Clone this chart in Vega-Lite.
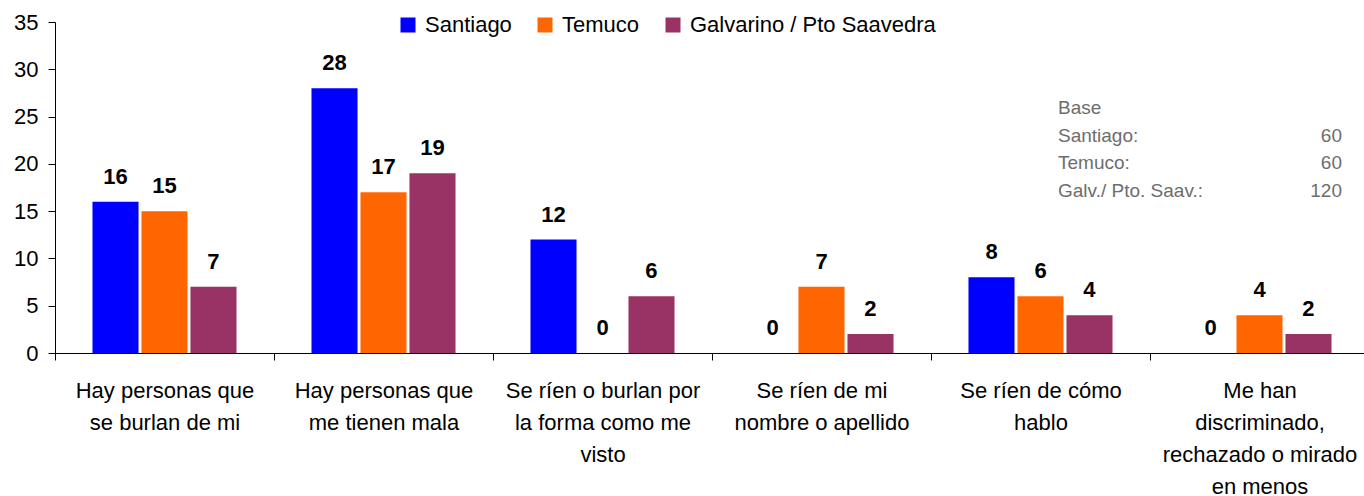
{
  "$schema": "https://vega.github.io/schema/vega-lite/v6.json",
  "width": 1314,
  "height": 331,
  "autosize": {"type": "none"},
  "padding": {"left": 55, "top": 22, "right": 0, "bottom": 143},
  "background": "white",
  "config": {
    "view": {"stroke": null},
    "font": "Liberation Sans",
    "axis": {"grid": false}
  },
  "datasets": {
    "bars": [
      {"cat": "Hay personas que|se burlan de mi", "city": "Santiago", "v": 16},
      {"cat": "Hay personas que|se burlan de mi", "city": "Temuco", "v": 15},
      {"cat": "Hay personas que|se burlan de mi", "city": "Galvarino / Pto Saavedra", "v": 7},
      {"cat": "Hay personas que|me tienen mala", "city": "Santiago", "v": 28},
      {"cat": "Hay personas que|me tienen mala", "city": "Temuco", "v": 17},
      {"cat": "Hay personas que|me tienen mala", "city": "Galvarino / Pto Saavedra", "v": 19},
      {"cat": "Se ríen o burlan por|la forma como me|visto", "city": "Santiago", "v": 12},
      {"cat": "Se ríen o burlan por|la forma como me|visto", "city": "Temuco", "v": 0},
      {"cat": "Se ríen o burlan por|la forma como me|visto", "city": "Galvarino / Pto Saavedra", "v": 6},
      {"cat": "Se ríen de mi|nombre o apellido", "city": "Santiago", "v": 0},
      {"cat": "Se ríen de mi|nombre o apellido", "city": "Temuco", "v": 7},
      {"cat": "Se ríen de mi|nombre o apellido", "city": "Galvarino / Pto Saavedra", "v": 2},
      {"cat": "Se ríen de cómo|hablo", "city": "Santiago", "v": 8},
      {"cat": "Se ríen de cómo|hablo", "city": "Temuco", "v": 6},
      {"cat": "Se ríen de cómo|hablo", "city": "Galvarino / Pto Saavedra", "v": 4},
      {"cat": "Me han|discriminado,|rechazado o mirado|en menos", "city": "Santiago", "v": 0},
      {"cat": "Me han|discriminado,|rechazado o mirado|en menos", "city": "Temuco", "v": 4},
      {"cat": "Me han|discriminado,|rechazado o mirado|en menos", "city": "Galvarino / Pto Saavedra", "v": 2}
    ],
    "base": [
      {"label": "Base\nSantiago:\nTemuco:\nGalv./ Pto. Saav.:", "n": " \n60\n60\n120"}
    ]
  },
  "layer": [
    {
      "data": {"name": "bars"},
      "mark": {"type": "bar"},
      "encoding": {
        "x": {
          "field": "cat", "type": "nominal",
          "scale": {
            "domain": ["Hay personas que|se burlan de mi", "Hay personas que|me tienen mala", "Se ríen o burlan por|la forma como me|visto", "Se ríen de mi|nombre o apellido", "Se ríen de cómo|hablo", "Me han|discriminado,|rechazado o mirado|en menos"],
            "paddingInner": 0, "paddingOuter": 0
          },
          "axis": {
            "title": null, "labelAngle": 0, "labelFontSize": 22, "labelColor": "black",
            "labelExpr": "split(datum.label, '|')", "labelLineHeight": 32, "labelBaseline": "top",
            "labelPadding": 20, "tickBand": "extent", "tickSize": 7, "tickColor": "black",
            "domainColor": "black", "labelLimit": 400, "labelOverlap": false, "labelBound": false
          }
        },
        "xOffset": {
          "field": "city", "type": "nominal",
          "scale": {"domain": ["Santiago", "Temuco", "Galvarino / Pto Saavedra"], "paddingInner": 0.06, "paddingOuter": 0.765}
        },
        "y": {
          "field": "v", "type": "quantitative",
          "scale": {"domain": [0, 35], "nice": false},
          "axis": {
            "title": null, "values": [0, 5, 10, 15, 20, 25, 30, 35], "labelFontSize": 22,
            "labelColor": "black", "labelPadding": 10, "tickSize": 7, "tickColor": "black", "domainColor": "black"
          }
        },
        "color": {
          "field": "city", "type": "nominal",
          "scale": {"domain": ["Santiago", "Temuco", "Galvarino / Pto Saavedra"], "range": ["#0000FF", "#FF6600", "#993366"]},
          "legend": {
            "orient": "none", "legendX": 342, "legendY": -8, "direction": "horizontal", "title": null,
            "symbolType": "square", "symbolSize": 225, "symbolStrokeWidth": 0, "labelFontSize": 22,
            "labelColor": "black", "labelOffset": 6, "columnPadding": 22, "padding": 0, "labelLimit": 400
          }
        }
      }
    },
    {
      "data": {"name": "bars"},
      "mark": {"type": "text", "fontWeight": "bold", "fontSize": 22, "dy": -25, "baseline": "middle", "color": "black"},
      "encoding": {
        "x": {"field": "cat", "type": "nominal"},
        "xOffset": {"field": "city", "type": "nominal"},
        "y": {"field": "v", "type": "quantitative"},
        "text": {"field": "v", "type": "quantitative"}
      }
    },
    {
      "data": {"name": "base"},
      "mark": {"type": "text", "align": "left", "baseline": "middle", "fontSize": 19, "lineHeight": 27.7, "lineBreak": "\n", "color": "#6d6d6d", "dx": 17.5},
      "encoding": {
        "x": {"datum": "Se ríen de cómo|hablo"},
        "y": {"datum": 25.9},
        "text": {"field": "label"}
      }
    },
    {
      "data": {"name": "base"},
      "mark": {"type": "text", "align": "right", "baseline": "middle", "fontSize": 19, "lineHeight": 27.7, "lineBreak": "\n", "color": "#6d6d6d", "dx": 82.5},
      "encoding": {
        "x": {"datum": "Me han|discriminado,|rechazado o mirado|en menos"},
        "y": {"datum": 25.9},
        "text": {"field": "n"}
      }
    }
  ]
}
